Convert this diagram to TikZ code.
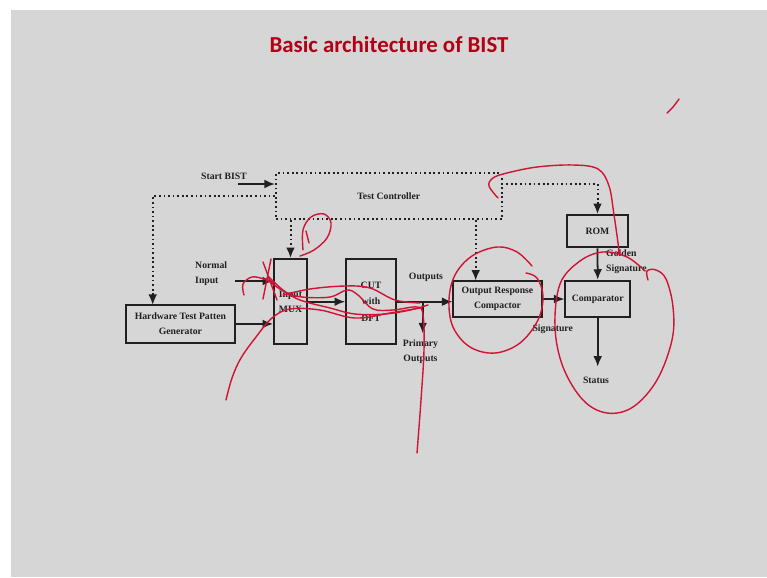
\documentclass[tikz,border=0pt]{standalone}
\usepackage{fontspec}
\setmainfont{Liberation Serif}
\newfontfamily\titlefont{Carlito}
\usetikzlibrary{arrows.meta}
\definecolor{slide}{RGB}{214,214,214}
\definecolor{ink}{RGB}{32,32,32}
\definecolor{titlered}{RGB}{180,0,20}
\definecolor{pen}{RGB}{208,20,52}

\begin{document}
\begin{tikzpicture}[x=0.03cm, y=-0.03cm,
% common options for blocks:
block/.style = {draw=ink, line width=1.5pt, align=center, inner sep=0,
            font=\fontsize{8.3}{13}\selectfont\bfseries, text=ink},
% common options for the free labels:
lbl/.style = {align=center, inner sep=0,
            font=\fontsize{8.3}{13}\selectfont\bfseries, text=ink},
% solid and dotted connectors:
arr/.style = {draw=ink, line width=1.5pt, -{Latex[length=9pt,width=7.5pt]}},
dotarr/.style = {draw=ink, line width=1.7pt, dash pattern=on 1.5pt off 2.4pt,
            -{Latex[length=9pt,width=7.5pt]}},
% pen strokes on the slide:
scrib/.style = {draw=pen, line width=1.2pt, line cap=round, line join=round}]
\fill[white] (0,0) rectangle (767,577);
\fill[slide] (11,10) rectangle (767,577);
\node[font=\titlefont\fontsize{19.5}{22}\selectfont\bfseries, text=titlered] (title) at (389,45) {Basic architecture of BIST};
% blocks
\node[block, minimum width=3.28cm, minimum height=1.13cm] (htpg) at (180.4,323.9) {Hardware Test Patten\\Generator};
\node[block, minimum width=0.99cm, minimum height=2.55cm] (mux) at (290.5,301.5) {Input\\MUX};
\node[block, minimum width=1.5cm, minimum height=2.54cm, font=\fontsize{8.3}{14.2}\selectfont\bfseries] (cut) at (371,301.7) {CUT\\with\\DFT};
\node[block, minimum width=2.65cm, minimum height=1.1cm, font=\fontsize{8.3}{12.5}\selectfont\bfseries] (orc) at (497.5,299) {Output Response\\Compactor};
\node[block, minimum width=1.94cm, minimum height=1.1cm] (comp) at (597.7,299) {Comparator};
\node[block, minimum width=1.85cm, minimum height=0.97cm] (rom) at (597.5,231.2) {ROM};
\node[block, dash pattern=on 1.5pt off 2.4pt, line width=1.7pt, minimum width=6.77cm, minimum height=1.38cm] (tc) at (388.8,196.3) {Test Controller};
% labels
\node[lbl] (startbist) at (224,176) {Start BIST};
\node[lbl, align=left, anchor=west] (normal) at (195,274) {Normal\\Input};
\node[lbl] (outputs) at (426,277.3) {Outputs};
\node[lbl] (primary) at (420.5,352) {Primary\\Outputs};
\node[lbl] (signature) at (552.7,329.3) {Signature};
\node[lbl, align=left, anchor=west] (golden) at (606,262) {Golden\\Signature};
\node[lbl] (status) at (596,380) {Status};
% connector ends
\coordinate (sb) at (238,184);
\coordinate (nin) at (235,281);
\coordinate (br) at (422.7,301.7);
\coordinate (po) at (422.7,333.3);
\coordinate (tcr) at (501.7,184);
\coordinate (hin) at (152.7,305);
\coordinate (orcin) at (475.7,280.7);
\coordinate (st) at (597.7,366.7);
% solid connectors
\draw[arr] (sb) -- (sb -| tc.west);
\draw[arr] (nin) -- (nin -| mux.west);
\draw[arr] (htpg.east) -- (htpg.east -| mux.west);
\draw[arr] (mux.east |- cut.west) -- (cut.west);
\draw[arr] (cut.east) -- (cut.east -| orc.west);
\draw[arr] (br) -- (po);
\draw[arr] (orc.east |- comp.west) -- (comp.west);
\draw[arr] (rom.south) -- (comp.north);
\draw[arr] (comp.south) -- (st);
% dotted control lines
\draw[dotarr] (tc.west) -| (hin);
\draw[dotarr] (mux.north |- tc.south) -- (mux.north);
\draw[dotarr] (orcin |- tc.south) -- (orcin);
\draw[dotarr] (tcr) -| (rom.north);
% pen strokes
\draw[scrib] plot[smooth, tension=0.6] coordinates {(667,113) (673,107) (679,99)};
\draw[scrib] plot[smooth, tension=0.6] coordinates {(303,250) (303,230) (311,217) (324,214) (331,223) (327,238) (314,250) (300,256)};
\draw[scrib] (306,231) -- (309,243);
\draw[scrib] (263,262) -- (277,300);
\draw[scrib] (271,259) -- (263,299);
\draw[scrib] plot[smooth, tension=0.6] coordinates {(244,295) (243,284) (252,277) (264,279) (274,283)};
\draw[scrib] plot[smooth, tension=0.6] coordinates {(266,279) (285,292) (302,297) (330,297) (347,290) (358,295) (373,309) (393,310) (417,307) (423,315) (424,350) (421,400) (417,453)};
\draw[scrib] plot[smooth, tension=0.6] coordinates {(268,276) (283,290) (300,300) (330,308) (355,314) (385,314) (410,310) (428,305)};
\draw[scrib] plot[smooth, tension=0.6] coordinates {(226,400) (232,378) (241,358) (256,337) (272,318) (290,309) (320,310) (355,318) (390,313) (420,308)};
\draw[scrib] plot[smooth, tension=0.6] coordinates {(283,295) (310,289) (345,286) (370,288) (395,300) (420,303)};
\draw[scrib] plot[smooth, tension=0.6] coordinates {(498,198) (489,186) (493,178) (507,173) (537,167) (573,165) (598,169) (609,186) (614,215) (618,243) (619,254)};
\draw[scrib] plot[smooth, tension=0.6] coordinates {(526,273) (537,278) (543,296) (538,320) (520,343) (495,353) (470,347) (453,327) (449,300) (455,275) (472,256) (497,247) (517,252) (532,266)};
\draw[scrib] plot[smooth, tension=0.6] coordinates {(648,280) (647,271) (656,270) (666,279) (673,307) (672,340) (657,380) (633,407) (607,413) (583,400) (563,367) (555,327) (560,284) (580,261) (603,252) (627,257) (645,271)};
\end{tikzpicture}
\end{document}
